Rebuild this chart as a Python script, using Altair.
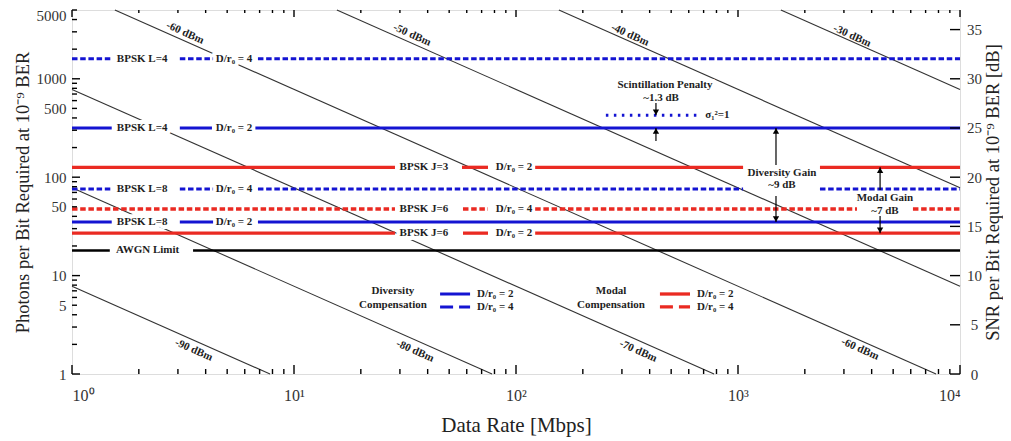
import numpy as np
import pandas as pd
import altair as alt

FONT = "Liberation Serif"
BLUE = "#1414d2"
RED = "#ea2a22"
INK = "#1e1e1e"
W, H = 888, 364

# ---------------- axes ----------------
x_tick_values = [1, 10, 100, 1000, 10000]
x_tick_labels = ["10⁰", "10¹", "10²", "10³", "10⁴"]
y_tick_values = [1, 5, 10, 50, 100, 500, 1000, 5000]
snr_tick_values = [0, 5, 10, 15, 20, 25, 30, 35]
rate_domain = [1, 10000]
photon_domain = [1, 5000]

# ---------------- horizontal requirement curves (photons/bit) ----------------
curve_names = ["BPSK L=4 D/r0=4", "BPSK L=4 D/r0=2", "BPSK J=3 D/r0=2", "BPSK L=8 D/r0=4",
               "BPSK J=6 D/r0=4", "BPSK L=8 D/r0=2", "BPSK J=6 D/r0=2", "AWGN Limit"]
curve_photons = [1600, 316, 126, 76, 47.5, 35, 27, 18]
curve_styles = ["blue_dash", "blue_solid", "red_solid", "blue_dash",
                "red_dash", "blue_solid", "red_solid", "black"]
curve_segments = [
    [(1, 1.51), (3.06, 4.32), (6.88, 10000)],
    [(1, 1.51), (3.06, 4.27), (6.7, 10000)],
    [(1, 28.5), (57.1, 74.8), (122, 1054), (2340, 10000)],
    [(1, 1.51), (3.06, 4.32), (6.88, 1054), (2340, 10000)],
    [(1, 28.5), (57.7, 74.8), (122, 3435), (6138, 10000)],
    [(1, 1.51), (3.06, 4.32), (6.88, 10000)],
    [(1, 28.5), (57.7, 74.8), (122, 10000)],
    [(1, 1.48), (3.51, 10000)],
]

# labels sitting in the gaps of the curves
curve_label_text = ["BPSK  L=4", "D/r₀ = 4", "BPSK  L=4", "D/r₀ = 2", "BPSK  J=3", "D/r₀ = 2",
                    "BPSK  L=8", "D/r₀ = 4", "BPSK  J=6", "D/r₀ = 4", "BPSK  L=8", "D/r₀ = 2",
                    "BPSK  J=6", "D/r₀ = 2", "AWGN  Limit"]
curve_label_rate = [2.07, 5.37, 2.07, 5.37, 38.5, 98, 2.07, 5.37, 38.5, 98, 2.07, 5.37, 38.5, 98, 2.19]
curve_label_photons = [1600, 1600, 316, 316, 126, 126, 76, 76, 47.5, 47.5, 35, 35, 27, 27, 18]

# scintillation (sigma_I^2 = 1) dotted curve
scint_photons = 427
scint_rate = [254, 675]
scint_label = "σ₁²=1"
scint_label_rate = 712

# ---------------- received power lines ----------------
power_dbm = [-90, -80, -70, -60, -50, -40, -30]
power_photons_at_1mbps = [7.8, 78, 780, 7800, 78000, 780000, 7800000]
power_label_text = ["-60 dBm", "-50 dBm", "-40 dBm", "-30 dBm", "-90 dBm", "-80 dBm", "-70 dBm", "-60 dBm"]
power_label_rate = [3.23, 34, 326, 3264, 3.54, 35.1, 355, 3546]
power_label_photons = [2920, 2786, 2786, 2722, 1.75, 1.71, 1.71, 1.79]

# ---------------- annotations ----------------
ann_text = ["Scintillation Penalty", "~1.3 dB", "Diversity Gain", "~9 dB", "Modal Gain", "~7 dB"]
ann_rate = [469, 450, 1578, 1578, 4592, 4592]
ann_photons = [865, 638, 110, 83.3, 61.4, 45.3]

arrow_rate = [427, 427, 1483, 1483, 4365, 4365]
arrow_from = [567, 233, 133, 64.4, 74, 40.3]
arrow_to = [427, 316, 316, 35, 126, 27]
arrow_dir = ["down", "up", "up", "down", "up", "down"]

# ---------------- in-plot legend ----------------
legend_head_text = ["Diversity", "Compensation", "Modal", "Compensation"]
legend_head_rate = [27.9, 27.9, 268, 268]
legend_head_photons = [6.9, 5.0, 6.9, 5.0]
legend_style = ["blue_solid", "blue_dash", "red_solid", "red_dash"]
legend_rate_start = [45.5, 45.5, 445, 445]
legend_rate_end = [62.1, 62.1, 608, 608]
legend_photons = [6.5, 4.8, 6.5, 4.8]
legend_label = ["D/r₀ = 2", "D/r₀ = 4", "D/r₀ = 2", "D/r₀ = 4"]
legend_label_rate = [66.7, 66.7, 654, 654]

TXT = 11

# ---------------- scales / axes ----------------
xscale = alt.Scale(type="log", domain=rate_domain, nice=False)
yscale = alt.Scale(type="log", domain=photon_domain, nice=False)

label_expr = ""
for v, t in zip(x_tick_values[:-1], x_tick_labels[:-1]):
    label_expr += f"datum.value < {v * 3} ? '{t}' : "
label_expr += f"'{x_tick_labels[-1]}'"

xaxis = alt.Axis(values=x_tick_values, labelExpr=label_expr, ticks=False, domain=False, grid=False,
                 title="Data Rate [Mbps]", labelFont=FONT, labelFontSize=16, labelColor="#333",
                 labelPadding=13, titleFont=FONT, titleFontSize=21, titleFontWeight="normal",
                 titleColor="#222", titlePadding=11)
yaxis = alt.Axis(values=y_tick_values, format="d", ticks=False, domain=False, grid=False,
                 title="Photons per Bit Required at 10⁻⁹ BER", labelFont=FONT, labelFontSize=15,
                 labelColor="#333", labelPadding=6,
                 labelOffset={"condition": {"test": f"datum.value == {photon_domain[1]}", "value": 5},
                              "value": 0},
                 titleFont=FONT, titleFontSize=18.5,
                 titleFontWeight="normal", titleColor="#222", titlePadding=4)


def X(f):
    return alt.X(f"{f}:Q", scale=xscale, axis=xaxis)


def Y(f):
    return alt.Y(f"{f}:Q", scale=yscale, axis=yaxis)


style_props = {
    "blue_solid": dict(color=BLUE, strokeWidth=3),
    "blue_dash": dict(color=BLUE, strokeWidth=3, strokeDash=[5.5, 2.7]),
    "red_solid": dict(color=RED, strokeWidth=3.3),
    "red_dash": dict(color=RED, strokeWidth=3.3, strokeDash=[5.5, 2.7]),
    "black": dict(color="black", strokeWidth=2.5),
}
legend_dash = {"blue_dash": [13, 6], "red_dash": [13, 6]}

layers = []

# power lines (straight lines of slope -1 on log-log, clipped to the frame)
rows = []
for dbm, k in zip(power_dbm, power_photons_at_1mbps):
    r0 = max(rate_domain[0], k / photon_domain[1])
    r1 = min(rate_domain[1], k / photon_domain[0])
    rows.append(dict(dbm=dbm, R=r0, R2=r1, N=k / r0, N2=k / r1))
power_df = pd.DataFrame(rows)
layers.append(alt.Chart(power_df).mark_rule(color="#333", strokeWidth=1.1).encode(
    x=X("R"), x2="R2", y=Y("N"), y2="N2"))

power_lab_df = pd.DataFrame(dict(t=power_label_text, R=power_label_rate, N=power_label_photons))
layers.append(alt.Chart(power_lab_df).mark_text(font=FONT, fontSize=11, fontWeight="bold",
                                                 angle=24, color=INK).encode(
    x=X("R"), y=Y("N"), text="t"))

# horizontal curves
seg_rows = []
for name, n, st, segs in zip(curve_names, curve_photons, curve_styles, curve_segments):
    for a, b in segs:
        seg_rows.append(dict(curve=name, style=st, R=a, R2=b, N=n))
seg_df = pd.DataFrame(seg_rows)

# label halos (hide power lines below texts)
lab_df = pd.DataFrame(dict(t=curve_label_text, R=curve_label_rate, N=curve_label_photons))
ann_df = pd.DataFrame(dict(t=ann_text, R=ann_rate, N=ann_photons))
for d in (lab_df, ann_df):
    layers.append(alt.Chart(d).mark_text(font=FONT, fontSize=TXT, fontWeight="bold", color="white",
                                         stroke="white", strokeWidth=8, strokeJoin="round").encode(
        x=X("R"), y=Y("N"), text="t"))

for st, props in style_props.items():
    d = seg_df[seg_df["style"] == st]
    layers.append(alt.Chart(d).mark_rule(**props).encode(x=X("R"), x2="R2", y=Y("N")))

scint_df = pd.DataFrame(dict(R=[scint_rate[0]], R2=[scint_rate[1]], N=[scint_photons]))
layers.append(alt.Chart(scint_df).mark_rule(color=BLUE, strokeWidth=3, strokeDash=[2.5, 5.5]).encode(
    x=X("R"), x2="R2", y=Y("N")))
layers.append(alt.Chart(pd.DataFrame(dict(t=[scint_label], R=[scint_label_rate], N=[scint_photons])))
              .mark_text(font=FONT, fontSize=TXT, fontWeight="bold", color=INK, align="left").encode(
    x=X("R"), y=Y("N"), text="t"))

for d in (lab_df, ann_df):
    layers.append(alt.Chart(d).mark_text(font=FONT, fontSize=TXT, fontWeight="bold", color=INK).encode(
        x=X("R"), y=Y("N"), text="t"))

# arrows
arr_df = pd.DataFrame(dict(R=arrow_rate, N=arrow_from, N2=arrow_to, d=arrow_dir))
layers.append(alt.Chart(arr_df).mark_rule(color="black", strokeWidth=1.2).encode(
    x=X("R"), y=Y("N"), y2="N2"))
layers.append(alt.Chart(arr_df[arr_df.d == "up"]).mark_point(
    shape="triangle-up", filled=True, color="black", size=40, opacity=1, yOffset=3).encode(
    x=X("R"), y=Y("N2")))
layers.append(alt.Chart(arr_df[arr_df.d == "down"]).mark_point(
    shape="triangle-down", filled=True, color="black", size=40, opacity=1, yOffset=-3).encode(
    x=X("R"), y=Y("N2")))

# legend
leg_head_df = pd.DataFrame(dict(t=legend_head_text, R=legend_head_rate, N=legend_head_photons))
layers.append(alt.Chart(leg_head_df).mark_text(font=FONT, fontSize=TXT, fontWeight="bold", color=INK).encode(
    x=X("R"), y=Y("N"), text="t"))
for st, a, b, n in zip(legend_style, legend_rate_start, legend_rate_end, legend_photons):
    props = dict(style_props[st])
    if st in legend_dash:
        props["strokeDash"] = legend_dash[st]
    layers.append(alt.Chart(pd.DataFrame(dict(R=[a], R2=[b], N=[n]))).mark_rule(**props).encode(
        x=X("R"), x2="R2", y=Y("N")))
leg_lab_df = pd.DataFrame(dict(t=legend_label, R=legend_label_rate, N=legend_photons))
layers.append(alt.Chart(leg_lab_df).mark_text(font=FONT, fontSize=TXT, fontWeight="bold", color=INK,
                                               align="left").encode(x=X("R"), y=Y("N"), text="t"))

# inward ticks (frame scaffolding)
x_major = x_tick_values
x_minor = [d * 10 ** k for k in range(4) for d in range(2, 10)]
y_major = [1, 10, 100, 1000]
y_minor = [d * 10 ** k for k in range(4) for d in range(2, 10) if d * 10 ** k <= 5000]
for vals, L in ((x_major, 9), (x_minor, 5)):
    d = pd.DataFrame(dict(R=vals))
    layers.append(alt.Chart(d).mark_rule(color="black", strokeWidth=1.4).encode(
        x=X("R"), y=alt.value(H), y2=alt.value(H - L)))
    layers.append(alt.Chart(d).mark_rule(color="black", strokeWidth=1.4).encode(
        x=X("R"), y=alt.value(0), y2=alt.value(L - 2)))
for vals, L in ((y_major, 8), (y_minor, 5)):
    d = pd.DataFrame(dict(N=vals))
    layers.append(alt.Chart(d).mark_rule(color="black", strokeWidth=1.4).encode(
        y=Y("N"), x=alt.value(0), x2=alt.value(L)))

main = alt.layer(*layers)

snr_max = 10 * np.log10(photon_domain[1])
snr_df = pd.DataFrame(dict(dB=snr_tick_values))
right = alt.Chart(snr_df).mark_rule(color="black", strokeWidth=1.4).encode(
    y=alt.Y("dB:Q", scale=alt.Scale(domain=[0, snr_max], nice=False),
            axis=alt.Axis(orient="right", values=snr_tick_values, format="d", ticks=False, domain=False,
                          grid=False, title="SNR per Bit Required at 10⁻⁹ BER [dB]", labelFont=FONT,
                          labelFontSize=15, labelColor="#333", labelAlign="center", labelPadding=14,
                          titleFont=FONT, titleFontSize=18.5, titleFontWeight="normal", titleColor="#222",
                          titleAngle=-90, titleBaseline="top", titlePadding=2)),
    x=alt.value(W - 10), x2=alt.value(W))

chart = (alt.layer(main, right)
         .resolve_scale(y="independent")
         .properties(width=W, height=H, padding={"left": 64, "top": 2, "right": 43, "bottom": 63},
                     autosize=alt.AutoSizeParams(type="none"))
         .configure_view(stroke="black", strokeWidth=2)
         .configure(background="white"))

chart.save("out.html", embed_options={"renderer": "svg", "actions": False})
